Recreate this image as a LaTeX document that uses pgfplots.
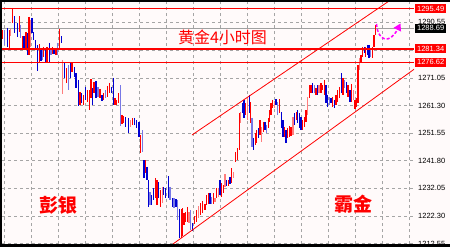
\documentclass[border=0pt]{standalone}
\usepackage{fontspec}
\setmainfont{Liberation Sans}
\newfontfamily\cjk{Noto Sans CJK SC}
\usepackage{pgfplots}
\pgfplotsset{compat=1.18}
\usepackage{pgfplotstable}
\usetikzlibrary{arrows.meta}

\definecolor{bgc}{RGB}{255,250,250}
\definecolor{upr}{RGB}{255,0,0}
\definecolor{dnb}{RGB}{0,0,210}
\definecolor{upp}{RGB}{255,125,125}
\definecolor{dnl}{RGB}{120,120,230}
\definecolor{gridc}{RGB}{165,165,165}
\definecolor{curc}{RGB}{160,160,160}
\definecolor{mag}{RGB}{255,0,255}

% red (up) bars: x (pixel position), high, low
\pgfplotstableread{
x hi lo
2.7 1288.01 1284.83
9.3 1288.01 1281.65
12.7 1295.79 1290.49
19.3 1292.96 1287.31
22.3 1285.89 1281.65
26 1287.31 1281.65
29 1292.61 1279.18
39.3 1283.07 1276.70
43.7 1282.01 1278.47
47 1282.01 1276.70
52.7 1282.01 1279.53
56 1281.65 1279.18
59.3 1288.37 1280.94
66.3 1274.58 1269.28
72 1276.70 1273.17
80 1266.10 1261.50
83.3 1265.04 1261.50
87.3 1266.80 1262.56
89.3 1266.80 1259.73
91 1270.69 1263.98
94 1269.63 1265.74
100 1267.16 1263.98
103.7 1265.74 1263.27
107.7 1268.22 1264.33
109.3 1269.28 1265.74
115 1263.98 1261.50
116.7 1263.27 1261.50
118.3 1265.74 1262.21
122 1257.97 1254.79
123.7 1257.61 1255.14
132.7 1256.91 1254.43
140.7 1250.90 1244.53
145.5 1242.06 1237.46
155.3 1235.70 1228.63
157 1234.99 1226.15
160.7 1231.45 1225.45
181.3 1224.74 1214.49
182.7 1225.09 1215.19
184 1223.32 1219.08
185.7 1223.68 1220.14
187.7 1225.45 1220.14
194.7 1222.26 1219.44
196.7 1224.38 1220.14
200.7 1226.86 1222.62
202.7 1227.57 1223.32
205 1226.51 1224.38
206.7 1229.69 1226.15
208.7 1230.39 1226.51
213.3 1230.39 1226.51
216.7 1232.16 1228.63
221.7 1233.93 1228.98
223.3 1233.22 1230.39
228.3 1234.99 1232.87
231.7 1239.23 1233.93
235.3 1244.89 1241.35
237.3 1246.30 1242.06
239.3 1258.67 1245.59
245.3 1262.21 1257.97
250.7 1262.56 1255.14
255.3 1251.60 1247.36
256.7 1252.66 1248.07
260 1256.20 1250.90
263.3 1255.49 1251.96
268.3 1256.91 1253.37
269.7 1259.73 1255.49
271 1262.21 1257.97
272.7 1263.27 1260.44
279.7 1263.62 1258.67
284.7 1253.73 1250.19
287.7 1253.37 1249.84
289.3 1254.08 1250.19
291 1253.73 1250.54
296.3 1259.03 1256.20
302.7 1256.20 1252.66
304.3 1257.26 1253.73
306 1259.73 1255.49
309.3 1268.57 1263.98
311 1268.57 1265.74
316 1267.51 1265.04
321 1269.28 1265.74
322.7 1268.57 1266.80
324.3 1270.34 1265.04
332.7 1264.33 1260.80
336 1265.04 1261.50
337.7 1266.80 1262.56
339.3 1267.87 1263.98
343 1271.05 1265.04
348 1268.57 1264.33
351.7 1268.93 1262.56
355 1263.27 1260.09
356.3 1263.98 1260.80
358 1275.64 1262.21
361 1279.18 1276.70
362.7 1282.01 1278.47
365.7 1282.01 1278.47
372.3 1282.01 1278.12
374 1286.25 1282.01
375.3 1289.78 1286.25
}\tabR

% blue (down) bars
\pgfplotstableread{
x hi lo
7.3 1288.72 1282.01
14.3 1292.96 1286.95
17.3 1290.49 1285.54
24 1285.89 1281.65
27.3 1286.95 1279.18
32 1292.26 1286.95
33.7 1287.31 1284.48
35.3 1284.48 1280.94
37.3 1282.71 1273.52
41 1281.30 1277.06
45.3 1280.94 1276.70
49.3 1283.42 1276.70
54 1281.30 1279.53
61.3 1285.89 1283.42
64.3 1276.35 1271.05
70.3 1276.70 1271.05
74.3 1274.94 1271.40
76 1272.81 1267.51
78.3 1270.34 1261.15
81.7 1265.74 1262.21
85.3 1267.87 1263.27
92.7 1267.51 1261.50
96 1269.99 1263.98
102 1265.04 1262.92
111.3 1267.87 1265.74
113.3 1271.05 1261.50
125.7 1257.26 1253.73
128.3 1256.91 1251.60
134.7 1256.91 1254.43
136.7 1256.20 1253.37
139 1255.49 1250.19
144 1242.06 1235.70
147 1239.59 1234.99
148.5 1234.99 1225.45
151.7 1229.69 1226.15
153.3 1232.16 1227.92
158.7 1234.28 1228.63
163.7 1232.52 1229.69
165.7 1232.16 1228.63
168.3 1236.40 1228.63
172.3 1228.63 1225.45
176 1228.27 1225.45
179.3 1224.74 1214.49
192.3 1219.79 1216.96
210 1230.39 1226.51
220 1234.99 1229.69
226.7 1234.99 1232.87
230 1236.05 1233.58
242.3 1262.21 1258.67
244 1263.27 1256.91
249.3 1265.04 1258.67
253.3 1249.84 1245.59
258.3 1253.37 1249.84
265 1255.49 1252.66
276 1263.62 1261.50
281.3 1259.03 1253.37
283 1256.20 1250.19
286 1252.66 1248.07
294.7 1258.67 1254.43
297.7 1259.73 1255.14
299.3 1258.67 1253.37
301 1257.26 1252.66
312.7 1269.28 1265.74
317.7 1268.57 1265.04
326 1268.57 1262.21
327.7 1265.04 1260.80
331 1263.98 1262.21
334.3 1263.27 1260.44
341.3 1272.81 1265.74
346.3 1269.63 1265.74
350 1266.80 1262.56
364.3 1282.01 1279.88
367.3 1282.71 1279.18
369 1282.71 1278.12
}\tabB

% pale red bars
\pgfplotstableread{
x hi lo
10.5 1288.37 1285.89
30.7 1291.55 1282.01
62.7 1277.41 1265.39
130.7 1256.20 1253.73
162.3 1232.52 1226.86
189 1223.68 1219.79
198.7 1225.80 1221.56
215 1228.63 1227.21
218.3 1232.16 1228.98
225 1237.11 1232.52
233.3 1237.82 1235.70
240.7 1259.03 1255.14
247.3 1264.33 1256.20
261.7 1253.73 1248.42
274.3 1262.92 1260.44
293 1257.26 1250.90
307.7 1264.33 1257.97
319 1268.57 1265.74
353.3 1266.80 1263.27
359.3 1278.12 1273.87
}\tabP

% pale blue bars
\pgfplotstableread{
x hi lo
4.7 1288.01 1282.71
20.7 1289.78 1285.19
42.3 1281.65 1277.41
51 1281.65 1279.18
57.3 1283.42 1279.18
68.3 1275.64 1266.80
98 1267.87 1264.33
105.7 1266.80 1263.98
120.3 1268.57 1254.08
142.3 1252.66 1244.89
150 1230.75 1226.15
170 1232.52 1227.92
174 1228.63 1225.09
177.7 1227.92 1220.85
190.7 1224.38 1217.31
211.7 1228.98 1226.51
252 1256.91 1246.66
266.7 1254.43 1251.60
277.7 1262.56 1257.97
314.3 1268.57 1265.74
329.3 1264.33 1261.50
344.7 1270.34 1267.51
370.7 1281.65 1278.47
}\tabL

\pgfplotsset{
  hlbar/.style={draw=none, mark=none, forget plot,
    error bars/.cd, y dir=minus, y explicit, error mark=none,
    error bar style={draw=#1, line width=1.2pt}}
}

\begin{document}
\begin{tikzpicture}[x=1pt,y=1pt]
\useasboundingbox (0,0) rectangle (450,247);
\fill[bgc] (0,0) rectangle (450,247);
\begin{axis}[
  at={(2pt,3pt)}, anchor=south west,
  scale only axis, width=412pt, height=242pt,
  xmin=2, xmax=414, ymin=1212.37, ymax=1297.91,
  axis line style={draw=none}, tick style={draw=none},
  xtick={4,31,...,409}, xticklabels={},
  ytick={1212.55,1222.30,1232.05,1241.80,1251.55,1261.30,1271.05,1280.80,1290.55},
  yticklabels={1212.55,1222.30,1232.05,1241.80,1251.55,1261.30,1271.05,{},\raisebox{2pt}{1290.55}},
  yticklabel pos=right,
  yticklabel style={anchor=west, inner sep=0pt, xshift=4pt, font=\fontsize{7.5}{8}\selectfont},
  grid=major,
  major grid style={gridc, line width=0.8pt, dash pattern=on 3pt off 3pt},
]
\addplot[curc, line width=1pt, forget plot] coordinates {(2,1288.69) (414,1288.69)};

\addplot[hlbar=upp] table[x=x, y=hi, y error minus expr=\thisrow{hi}-\thisrow{lo}] {\tabP};
\addplot[hlbar=dnl] table[x=x, y=hi, y error minus expr=\thisrow{hi}-\thisrow{lo}] {\tabL};
\addplot[hlbar=upr] table[x=x, y=hi, y error minus expr=\thisrow{hi}-\thisrow{lo}] {\tabR};
\addplot[hlbar=dnb] table[x=x, y=hi, y error minus expr=\thisrow{hi}-\thisrow{lo}] {\tabB};

\addplot[upr, line width=1.3pt, forget plot] coordinates {(2,1295.49) (414,1295.49)};
\addplot[upr, line width=1.3pt, forget plot] coordinates {(2,1281.34) (414,1281.34)};
\addplot[upr, line width=1.3pt, forget plot] coordinates {(2,1276.62) (414,1276.62)};

\addplot[upr, line width=0.8pt, forget plot] coordinates {(192,1250.90) (392,1298.97)};
\addplot[upr, line width=0.8pt, forget plot] coordinates {(173,1212.37) (414,1274.12)};

\draw[mag, line width=1.5pt, dash pattern=on 3pt off 2pt, -{Triangle[length=7pt,width=8pt]}]
  (axis cs:376.5,1290.14) .. controls (axis cs:378,1283.77) and (axis cs:390,1283.07) .. (axis cs:400.5,1290.31);

\node[text=upr, font=\cjk\fontsize{16}{16}\selectfont] at (axis cs:222.5,1285.36) {黄金4小时图};
\node[text=upr, font=\cjk\bfseries\fontsize{19}{19}\selectfont] at (axis cs:58,1226.15) {彭银};
\node[text=upr, font=\cjk\bfseries\fontsize{19}{19}\selectfont] at (axis cs:353,1226.33) {霸金};

\coordinate (La) at (axis cs:414,1295.49);
\coordinate (Lb) at (axis cs:414,1288.69);
\coordinate (Lc) at (axis cs:414,1281.34);
\coordinate (Ld) at (axis cs:414,1276.62);
\end{axis}
\tikzset{lbox/.style={anchor=west, inner sep=0pt, minimum width=31pt, minimum height=9pt, text=white, font=\fontsize{7.5}{8}\selectfont}}
\node[lbox, fill=upr] at ([xshift=1pt]La) {1295.49};
\node[lbox, fill=black] at ([xshift=1pt]Lb) {1288.69};
\node[lbox, fill=upr] at ([xshift=1pt]Lc) {1281.34};
\node[lbox, fill=upr] at ([xshift=1pt]Ld) {1276.62};
\fill[black] (0,0) rectangle (450,3);
\fill[black] (0,245.3) rectangle (450,247);
\fill[black] (0,0) rectangle (1.5,247);
\end{tikzpicture}
\end{document}
